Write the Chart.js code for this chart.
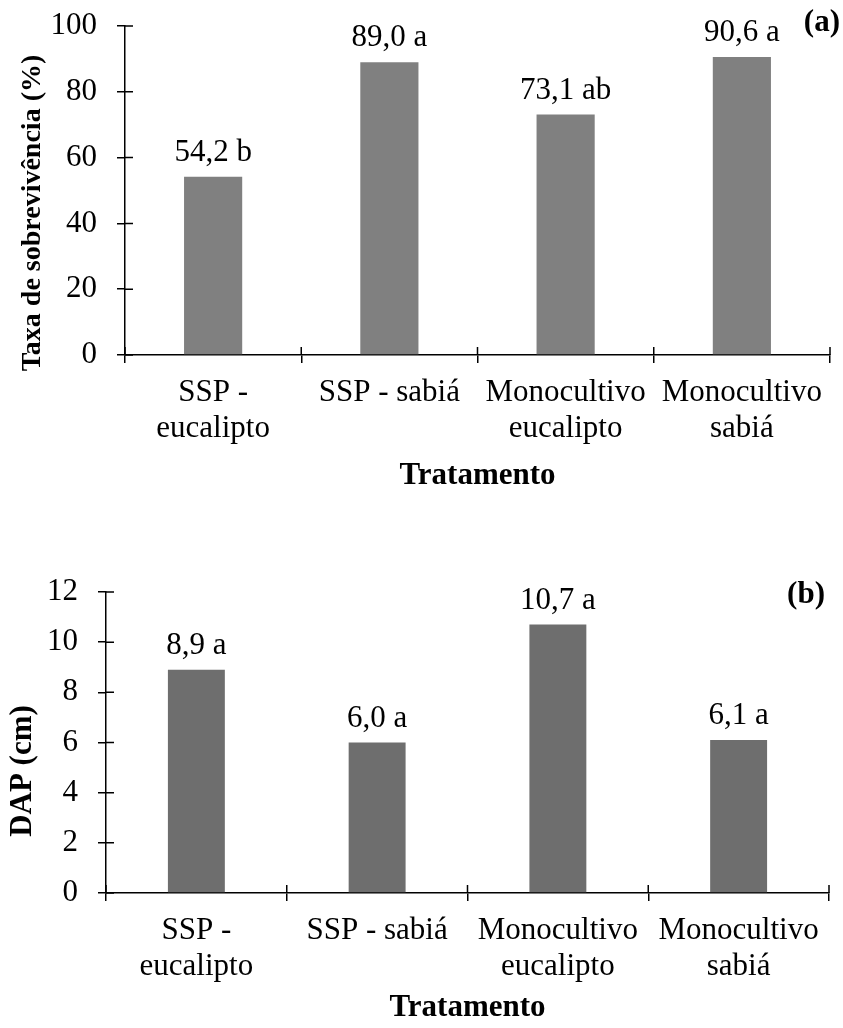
<!DOCTYPE html>
<html>
<head>
<meta charset="utf-8">
<script src="https://cdn.jsdelivr.net/npm/chart.js@4.4.1/dist/chart.umd.min.js"></script>
<style>
  html, body { margin: 0; padding: 0; background: #fff; }
  #wrap { position: relative; width: 843px; height: 1028px; }
  .box { position: absolute; left: 0; width: 843px; height: 514px; }
</style>
</head>
<body>
<div id="wrap">
  <div class="box" style="top:0"><canvas id="chartA" width="843" height="514"></canvas></div>
  <div class="box" style="top:514px"><canvas id="chartB" width="843" height="514"></canvas></div>
</div>
<script>
// data
const categories = [['SSP -', 'eucalipto'], 'SSP - sabiá', ['Monocultivo', 'eucalipto'], ['Monocultivo', 'sabiá']];
const survivalValues = [54.2, 89.0, 73.1, 90.6];
const survivalLetters = ['b', 'a', 'ab', 'a'];
const survivalTicks = [0, 20, 40, 60, 80, 100];
const dapValues = [8.9, 6.0, 10.7, 6.1];
const dapLetters = ['a', 'a', 'a', 'a'];
const dapTicks = [0, 2, 4, 6, 8, 10, 12];

const FONT = '"Liberation Serif", "Times New Roman", serif';
const FS = 31;

// draws inner half of tick marks, value labels, y title and panel tag
const decor = {
  id: 'decor',
  afterDatasetsDraw(chart, args, opts) {
    const ctx = chart.ctx;
    const x = chart.scales.x, y = chart.scales.y;
    ctx.save();
    ctx.strokeStyle = '#000';
    ctx.lineWidth = 1.5;
    ctx.beginPath();
    y.ticks.forEach(t => {
      const py = y.getPixelForValue(t.value);
      ctx.moveTo(y.right, py);
      ctx.lineTo(y.right + 8, py);
    });
    for (let k = 0; k <= x.ticks.length; k++) {
      const px = x.getPixelForValue(k - 0.5);
      ctx.moveTo(px, x.top);
      ctx.lineTo(px, x.top - 8);
    }
    ctx.stroke();

    // value labels above bars
    ctx.fillStyle = '#000';
    ctx.font = FS + 'px ' + FONT;
    ctx.textAlign = 'center';
    ctx.textBaseline = 'alphabetic';
    const meta = chart.getDatasetMeta(0);
    meta.data.forEach((bar, i) => {
      const v = chart.data.datasets[0].data[i];
      ctx.fillText(v.toFixed(1).replace('.', ',') + ' ' + opts.letters[i], bar.x, bar.y - 16);
    });

    // y axis title
    ctx.font = 'bold ' + opts.titleSize + 'px ' + FONT;
    ctx.save();
    ctx.translate(opts.titleX, opts.titleY);
    ctx.rotate(-Math.PI / 2);
    ctx.textBaseline = 'middle';
    ctx.fillText(opts.title, 0, 0);
    ctx.restore();

    // (a) / (b)
    ctx.font = 'bold ' + FS + 'px ' + FONT;
    ctx.textAlign = 'right';
    ctx.fillText(opts.tag, opts.tagX, opts.tagY);
    ctx.restore();
  }
};

function makeChart(id, values, letters, ticks, color, lay) {
  return new Chart(document.getElementById(id), {
    type: 'bar',
    data: {
      labels: categories,
      datasets: [{
        data: values,
        backgroundColor: color,
        barPercentage: lay.barPct,
        categoryPercentage: 1
      }]
    },
    options: {
      responsive: false,
      animation: false,
      layout: { padding: { left: 0, top: lay.top, right: lay.right, bottom: 0 } },
      scales: {
        x: {
          afterFit: s => { s.height = lay.xHeight; },
          border: { display: true, color: '#000', width: 1.5 },
          grid: { display: true, drawOnChartArea: false, offset: true, tickLength: 8, color: '#000', lineWidth: 1.5 },
          ticks: { color: '#000', padding: 12, maxRotation: 0, autoSkip: false, font: { family: FONT, size: FS, lineHeight: 1.16 } },
          title: { display: true, text: 'Tratamento', color: '#000', padding: { top: 0, bottom: lay.xTitlePad }, font: { family: FONT, size: FS, weight: 'bold', lineHeight: 1.2 } }
        },
        y: {
          afterFit: s => { s.width = lay.left; s.paddingTop = 0; s.paddingBottom = 0; },
          min: ticks[0],
          max: ticks[ticks.length - 1],
          border: { display: true, color: '#000', width: 1.5 },
          grid: { display: true, drawOnChartArea: false, tickLength: 8, color: '#000', lineWidth: 1.5 },
          ticks: { stepSize: ticks[1] - ticks[0], color: '#000', padding: 20, font: { family: FONT, size: FS } }
        }
      },
      plugins: {
        legend: { display: false },
        tooltip: { enabled: false },
        decor: lay.decor
      }
    },
    plugins: [decor]
  });
}

makeChart('chartA', survivalValues, survivalLetters, survivalTicks, '#808080', {
  left: 125, top: 26, right: 13, xHeight: 159, xTitlePad: 19, barPct: 0.33,
  decor: { letters: survivalLetters, title: 'Taxa de sobrevivência (%)', titleSize: 28, titleX: 33, titleY: 213, tag: '(a)', tagX: 840, tagY: 31 }
});

makeChart('chartB', dapValues, dapLetters, dapTicks, '#6e6e6e', {
  left: 106, top: 78, right: 14, xHeight: 135, xTitlePad: 1, barPct: 0.315,
  decor: { letters: dapLetters, title: 'DAP (cm)', titleSize: 31, titleX: 23, titleY: 257, tag: '(b)', tagX: 825, tagY: 89 }
});
</script>
</body>
</html>
